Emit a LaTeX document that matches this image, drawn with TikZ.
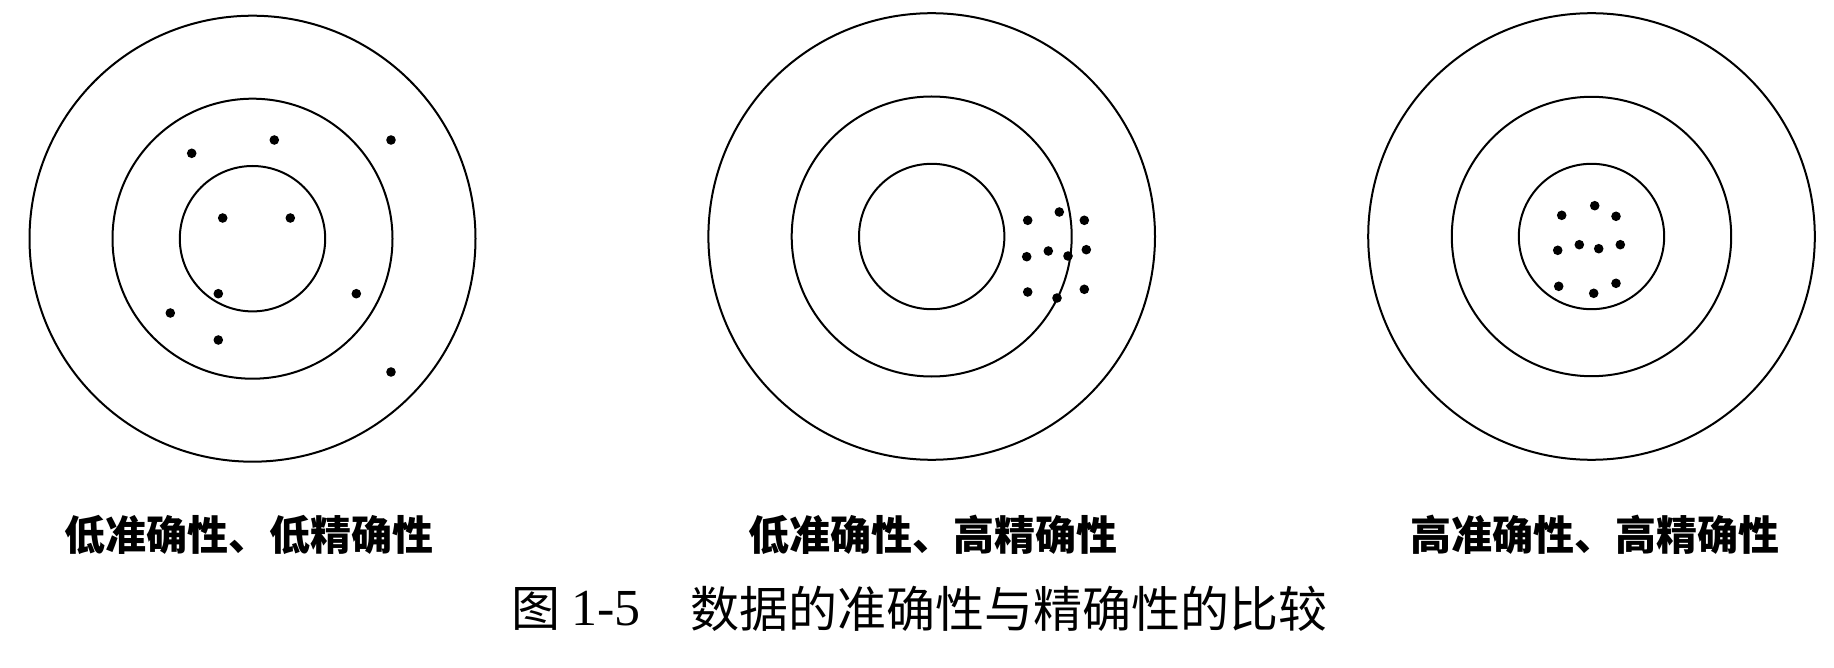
\documentclass[tikz,border=0pt]{standalone}
\usepackage{fontspec}
\newfontfamily\cjk{Noto Sans CJK SC}
\newfontfamily\numfont{Liberation Serif}
\begin{document}
\begin{tikzpicture}[x=1pt,y=-1pt,
  ring/.style={draw=black,line width=2pt},
  dot/.style={fill=black},
  lbl/.style={inner sep=0pt,font=\cjk\fontsize{41}{41}\selectfont\bfseries},
  captxt/.style={inner sep=0pt,anchor=west}]
\useasboundingbox (0,0) rectangle (1834,668);
% target 1
\foreach \cx/\cy in {252.5/238.7}{
  \draw[ring] (\cx,\cy) circle (223);
  \draw[ring] (\cx,\cy) circle (140);
  \draw[ring] (\cx,\cy) circle (72.7);
}
\foreach \p in {(191.7,153.3),(274.3,140),(391,140),(222.7,218),(290.3,218),(218.3,293.7),(356.3,293.7),(170.3,313),(218.3,340),(391,372)}
  \fill[dot] \p circle (4.8);
% target 2
\foreach \cx/\cy in {931.7/236.5}{
  \draw[ring] (\cx,\cy) circle (223.3);
  \draw[ring] (\cx,\cy) circle (140);
  \draw[ring] (\cx,\cy) circle (72.7);
}
\foreach \p in {(1027.7,220.3),(1059.3,212),(1084.3,220.3),(1026.7,256.7),(1048.3,251),(1068,256),(1086.3,249.7),(1027.7,292),(1057,298),(1084.3,289.3)}
  \fill[dot] \p circle (4.8);
% target 3
\foreach \cx/\cy in {1591.5/236.5}{
  \draw[ring] (\cx,\cy) circle (223.3);
  \draw[ring] (\cx,\cy) circle (139.7);
  \draw[ring] (\cx,\cy) circle (72.7);
}
\foreach \p in {(1561.7,215.3),(1594.7,205.7),(1616,216.3),(1557.7,250.3),(1579.3,244.7),(1598.7,248.7),(1620.3,244.7),(1558.7,286.3),(1593.7,293.3),(1616,283.3)}
  \fill[dot] \p circle (4.8);
% labels
\node[lbl] (l1) at (249,534.5) {低准确性、低精确性};
\node[lbl] (l2) at (933,534.5) {低准确性、高精确性};
\node[lbl] (l3) at (1595,534.5) {高准确性、高精确性};
% caption
\node[captxt,font=\cjk\fontsize{49}{49}\selectfont] (c1) at (511,609) {图};
\node[captxt,font=\numfont\fontsize{52}{52}\selectfont] (c2) at (571,609) {1-5};
\node[captxt,font=\cjk\fontsize{49}{49}\selectfont] (c3) at (690,609) {数据的准确性与精确性的比较};
\end{tikzpicture}
\end{document}
